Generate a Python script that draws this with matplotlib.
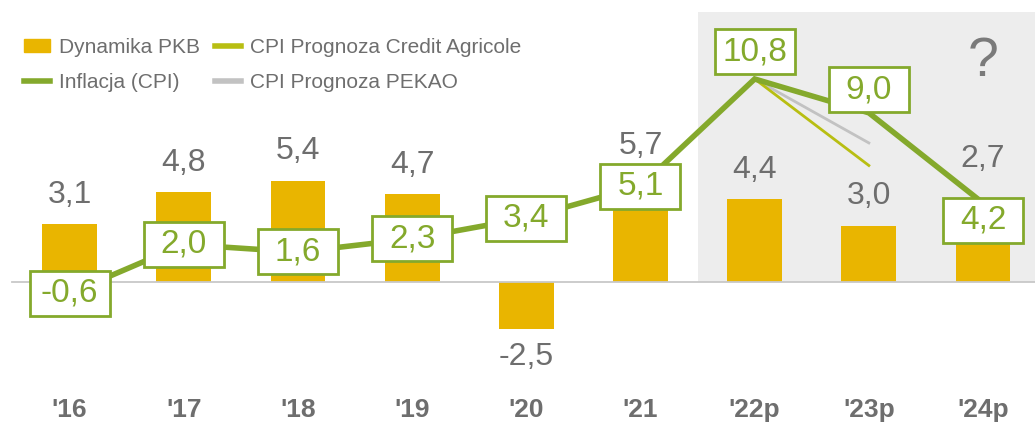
import matplotlib
matplotlib.use("Agg")
import matplotlib.pyplot as plt
from matplotlib.patches import Patch, Rectangle
from matplotlib.lines import Line2D

# data
years = ["'16", "'17", "'18", "'19", "'20", "'21", "'22p", "'23p", "'24p"]
gdp = [3.1, 4.8, 5.4, 4.7, -2.5, 5.7, 4.4, 3.0, 2.7]
cpi = [-0.6, 2.0, 1.6, 2.3, 3.4, 5.1, 10.8, 9.0, 4.2]
ca_years = [6, 7]
ca_cpi = [10.8, 6.2]
pekao_years = [6, 7]
pekao_cpi = [10.8, 7.4]

# layout tweaks (pixels)
gdp_label_extra = [0, 0, 0, 0, 0, 0, 0, 0, 31]
box_shift = [0, 0, 0, 0, 0, 0, -27, -23, 17]

BAR = "#E9B500"
GREEN = "#84A92C"
CA = "#B8BE12"
PEKAO = "#C2C2C2"
GREY_TXT = "#6E6E6E"
NUM_FONT = ["Liberation Sans", "DejaVu Sans"]
NARROW = ["Liberation Sans Narrow", "Liberation Sans", "DejaVu Sans"]

fig = plt.figure(figsize=(10.35, 4.25), dpi=100)
ax = fig.add_axes([0, 0, 1, 1])
ax.set_xlim(-0.609, 8.455)
ax.set_ylim(-7.6, 15.0)
ax.axis("off")

px_x = 1035 / (8.455 + 0.609)
px_y = 425 / (15.0 + 7.6)

x = list(range(len(years)))

# forecast background
ax.add_patch(Rectangle((5.5, 0), 4, 14.36, color="#EDEDED", zorder=0, lw=0))

ax.bar(x, gdp, width=0.48, color=BAR, zorder=2)
ax.plot([-0.5, 9], [0, 0], color="#C8C8C8", lw=1.3, zorder=3)

ax.plot(pekao_years, pekao_cpi, color=PEKAO, lw=2, zorder=3)
ax.plot(ca_years, ca_cpi, color=CA, lw=2, zorder=3)
ax.plot(x, cpi, color=GREEN, lw=4, zorder=4, solid_joinstyle="miter")

for i, v in enumerate(gdp):
    txt = f"{v:.1f}".replace(".", ",")
    if v >= 0:
        off = 21 + gdp_label_extra[i]
    else:
        off = -20
    ax.annotate(txt, (i, v), xytext=(0, off), textcoords="offset points",
                ha="center", va="center", fontsize=23, color=GREY_TXT,
                family=NUM_FONT, zorder=5)

bw = 80 / px_x
bh = 45 / px_y
for i, v in enumerate(cpi):
    cy = v - box_shift[i] / px_y
    ax.add_patch(Rectangle((i - bw / 2, cy - bh / 2), bw, bh, facecolor="white",
                           edgecolor=GREEN, lw=2, zorder=6))
    ax.text(i, cy, f"{v:.1f}".replace(".", ","), ha="center", va="center",
            fontsize=24, color=GREEN, family=NUM_FONT, zorder=7)

for i, lab in enumerate(years):
    ax.text(i, -6.8, lab, ha="center", va="center", fontsize=19,
            fontweight="bold", color=GREY_TXT, family=NUM_FONT)

ax.text(8.0, 11.7, "?", ha="center", va="center", fontsize=40,
        color="#7A7A7A", family=NUM_FONT)

handles = [
    Patch(color=BAR),
    Line2D([], [], color=GREEN, lw=4),
    Line2D([], [], color=CA, lw=4),
    Line2D([], [], color=PEKAO, lw=4),
]
labels = ["Dynamika PKB", "Inflacja (CPI)", "CPI Prognoza Credit Agricole",
          "CPI Prognoza PEKAO"]
leg = ax.legend(handles, labels, ncol=2, loc="upper left",
                bbox_to_anchor=(0.015, 0.93), frameon=False,
                prop={"family": NARROW, "size": 15}, labelcolor=GREY_TXT,
                handlelength=1.25, handleheight=0.6, handletextpad=0.45,
                labelspacing=0.78, columnspacing=0.7, borderaxespad=0)

fig.savefig("out.png", dpi=100)
